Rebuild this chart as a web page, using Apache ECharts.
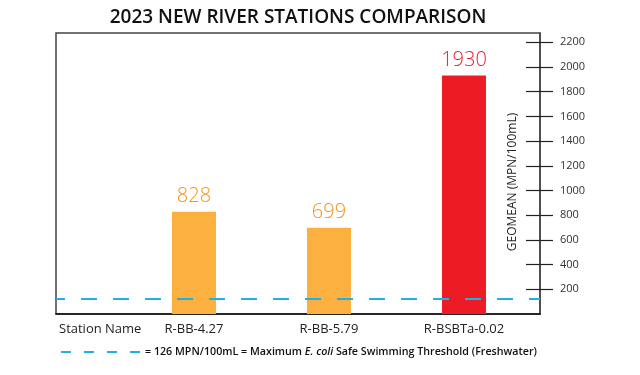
<!DOCTYPE html>
<html><head><meta charset="utf-8">
<script src="https://cdn.jsdelivr.net/npm/echarts@6/dist/echarts.min.js"></script>
<style>html,body{margin:0;padding:0;background:#fff}#c{width:640px;height:375px}</style>
</head><body><div id="c"></div>
<script>
var stations = ['R-BB-4.27', 'R-BB-5.79', 'R-BSBTa-0.02'];
var geomean = [828, 699, 1930];
var threshold = 126;
var yTicks = [200, 400, 600, 800, 1000, 1200, 1400, 1600, 1800, 2000, 2200];
var titleText = '2023 NEW RIVER STATIONS COMPARISON';
var yName = 'GEOMEAN (MPN/100mL)';
var xName = 'Station Name';

var FONT = 'Open Sans';
var barColors = ['#FBB040', '#FBB040', '#ED1C24'];
var labelColors = ['#F7941D', '#F7941D', '#ED1C24'];
var idx = stations.map(function (s, i) { return i; });

var chart = echarts.init(document.getElementById('c'), null, {renderer: 'canvas'});
var yMin = 0, yMax = 2275;
chart.setOption({
  animation: false,
  textStyle: {fontFamily: FONT},
  grid: {left: 56, right: 100, top: 33, bottom: 61, show: true, borderColor: '#444', borderWidth: 1.5},
  xAxis: {
    type: 'value', min: -1.022, max: 2.563,
    splitLine: {show: false},
    axisLine: {show: true, onZero: false, lineStyle: {color: '#111', width: 1.5}},
    axisTick: {show: false},
    axisLabel: {
      customValues: idx, fontFamily: FONT, fontSize: 13, color: '#222', margin: 9,
      formatter: function (v) { return stations[Math.round(v)]; }
    }
  },
  yAxis: [{
    type: 'value', position: 'right', min: yMin, max: yMax,
    splitLine: {show: false},
    axisLine: {show: true, onZero: false, lineStyle: {color: '#444', width: 1.5}},
    axisTick: {show: true, inside: true, length: 14, customValues: yTicks, lineStyle: {color: '#222', width: 1.2}},
    axisLabel: {show: false}
  }, {
    type: 'value', position: 'right', min: yMin, max: yMax,
    splitLine: {show: false},
    axisLine: {show: false, onZero: false},
    axisTick: {show: true, inside: false, length: 13, customValues: yTicks, lineStyle: {color: '#222', width: 1.2}},
    axisLabel: {customValues: yTicks, fontFamily: FONT, fontSize: 11, color: '#333', margin: 20,
                formatter: function (v) { return String(v); }}
  }],
  series: [{
    type: 'bar', yAxisIndex: 0, barWidth: 44,
    data: idx.map(function (i) {
      return {value: [i, geomean[i]], itemStyle: {color: barColors[i]},
              label: {color: labelColors[i]}};
    }),
    label: {show: true, position: 'top', distance: 5, fontFamily: FONT, fontSize: 20, fontWeight: 300,
            formatter: function (p) { return p.value[1]; }},
    markLine: {
      silent: true, symbol: 'none', label: {show: false},
      lineStyle: {color: '#1FB1E6', width: 2, type: [16, 16], dashOffset: 7},
      data: [{yAxis: threshold}]
    }
  }],
  graphic: [
    {type: 'text', x: 298, y: 18, style: {text: titleText, font: '600 19px "' + FONT + '"', fill: '#111', align: 'center', verticalAlign: 'middle'}},
    {type: 'text', x: 513, y: 182, rotation: Math.PI / 2, style: {text: yName, font: '12px "' + FONT + '"', fill: '#222', align: 'center', verticalAlign: 'middle'}},
    {type: 'text', x: 59, y: 329, style: {text: xName, font: '13px "' + FONT + '"', fill: '#222', align: 'left', verticalAlign: 'middle'}},
    {type: 'line', shape: {x1: 61, y1: 352, x2: 140, y2: 352}, style: {stroke: '#1FB1E6', lineWidth: 2, lineDash: [10, 13]}},
    {type: 'text', x: 145, y: 352, style: {
      text: '= 126 MPN/100mL = Maximum {i|E. coli} Safe Swimming Threshold (Freshwater)',
      font: '600 10.7px "' + FONT + '"', fill: '#111', align: 'left', verticalAlign: 'middle',
      rich: {i: {fontStyle: 'italic', fontWeight: 600, fontSize: 10.7, fontFamily: FONT, fill: '#111'}}
    }}
  ]
});
</script></body></html>
